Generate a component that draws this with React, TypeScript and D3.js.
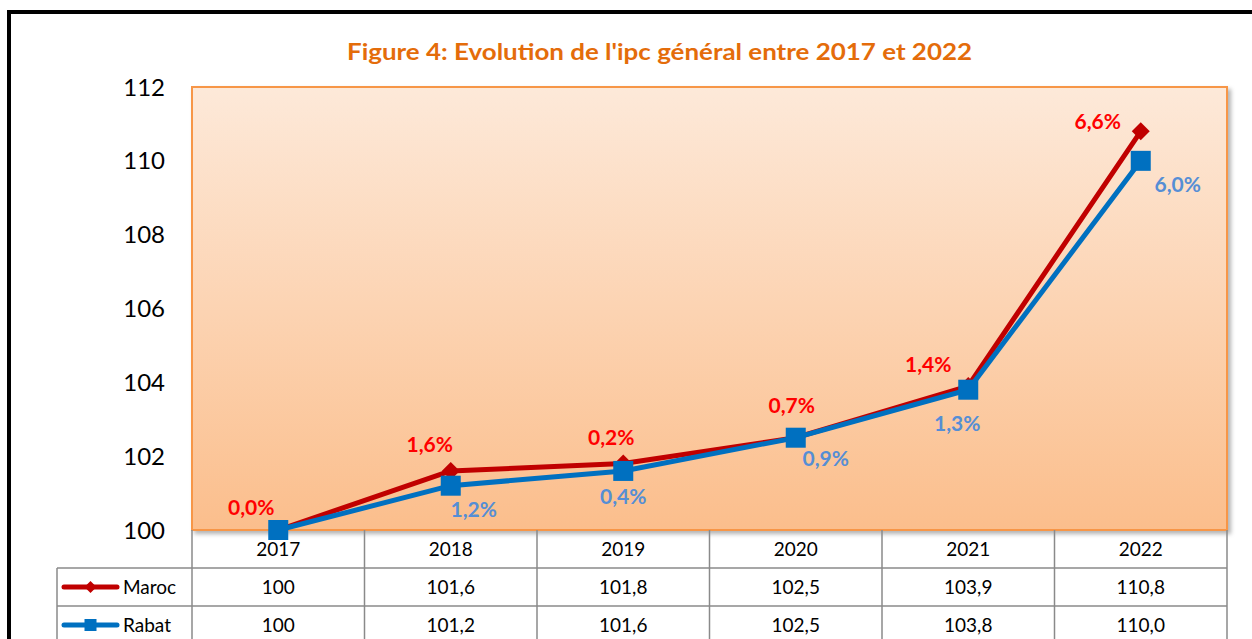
import React from "react";
import * as d3 from "d3";

const years = ["2017", "2018", "2019", "2020", "2021", "2022"];
const maroc = [100, 101.6, 101.8, 102.5, 103.9, 110.8];
const rabat = [100, 101.2, 101.6, 102.5, 103.8, 110.0];
const marocLabels = ["0,0%", "1,6%", "0,2%", "0,7%", "1,4%", "6,6%"];
const rabatLabels = ["", "1,2%", "0,4%", "0,9%", "1,3%", "6,0%"];
const marocTable = ["100", "101,6", "101,8", "102,5", "103,9", "110,8"];
const rabatTable = ["100", "101,2", "101,6", "102,5", "103,8", "110,0"];
const yTicks = [100, 102, 104, 106, 108, 110, 112];

// label offsets (layout)
const marocOff: [number, number][] = [[-27, -23], [-21, -26], [-12, -26], [-4, -32], [-40, -22], [-43, -10]];
const rabatOff: [number, number][] = [[0, 0], [23, 24], [0, 26], [30, 21], [-11, 34], [37, 24]];

const W = 1252, H = 639;
const L = 192, R = 1227, T = 87, B = 530;
const rowH = 38;
const legendLeft = 57;
const FONT = "Lato, 'Open Sans', sans-serif";
const RED = "#C00000";
const BLUE = "#0070C0";

export default function App() {
  const x = d3.scaleBand<string>().domain(years).range([L, R]);
  const y = d3.scaleLinear().domain([100, 112]).range([B, T]);
  const cx = (yr: string) => (x(yr) as number) + x.bandwidth() / 2;
  const line = d3.line<[number, number]>().x(d => d[0]).y(d => d[1]);
  const mPts: [number, number][] = years.map((yr, i) => [cx(yr), y(maroc[i])]);
  const rPts: [number, number][] = years.map((yr, i) => [cx(yr), y(rabat[i])]);
  const grid = "#8A8A8A";
  const tableBottom = B + rowH * 3;
  const bounds = years.map(yr => x(yr) as number).concat([R]);

  const diamond = (px: number, py: number, s: number) =>
    `M${px},${py - s}L${px + s},${py}L${px},${py + s}L${px - s},${py}Z`;

  return (
    <svg width={W} height={H} style={{ position: "absolute", left: 0, top: 0, background: "#fff" }} fontFamily={FONT}>
      <defs>
        <linearGradient id="bg" x1="0" y1="0" x2="0" y2="1">
          <stop offset="0" stopColor="#FDE9D9" />
          <stop offset="1" stopColor="#FBBE8C" />
        </linearGradient>
        <filter id="sh" x="-5%" y="-5%" width="110%" height="115%">
          <feDropShadow dx="3" dy="3" stdDeviation="2" floodColor="#000" floodOpacity="0.3" />
        </filter>
      </defs>
      <rect x={9} y={12} width={1300} height={700} fill="none" stroke="#000" strokeWidth={4} />
      <text x={347} y={60} textLength={625} lengthAdjust="spacingAndGlyphs" fontSize={23} fontWeight="bold" fill="#E46C0A">
        Figure 4: Evolution de l'ipc général entre 2017 et 2022
      </text>

      <rect x={L} y={T} width={R - L} height={B - T} fill="url(#bg)" stroke="#F79646" strokeWidth={2} filter="url(#sh)" />

      {yTicks.map(t => (
        <text key={t} x={165} y={y(t)} dy="0.36em" textAnchor="end" fontSize={24} fill="#000">{t}</text>
      ))}

      {/* table */}
      {[B + rowH, B + rowH * 2].map(yy => (
        <line key={yy} x1={legendLeft} x2={R} y1={yy} y2={yy} stroke={grid} strokeWidth={1.5} />
      ))}
      {bounds.map(bx => (
        <line key={bx} x1={bx} x2={bx} y1={B} y2={tableBottom} stroke={grid} strokeWidth={1.5} />
      ))}
      <line x1={legendLeft} x2={legendLeft} y1={B + rowH} y2={tableBottom} stroke={grid} strokeWidth={1.5} />
      {years.map((yr, i) => (
        <g key={yr} fontSize={19} textAnchor="middle" fill="#000">
          <text x={cx(yr)} y={B + rowH / 2} dy="0.36em">{yr}</text>
          <text x={cx(yr)} y={B + rowH * 1.5} dy="0.36em">{marocTable[i]}</text>
          <text x={cx(yr)} y={B + rowH * 2.5} dy="0.36em">{rabatTable[i]}</text>
        </g>
      ))}
      {/* legend keys */}
      <line x1={64} x2={117} y1={B + rowH * 1.5} y2={B + rowH * 1.5} stroke={RED} strokeWidth={5} strokeLinecap="round" />
      <path d={diamond(90.5, B + rowH * 1.5, 6)} fill={RED} />
      <text x={123} y={B + rowH * 1.5} dy="0.36em" fontSize={19}>Maroc</text>
      <line x1={64} x2={117} y1={B + rowH * 2.5} y2={B + rowH * 2.5} stroke={BLUE} strokeWidth={5} strokeLinecap="round" />
      <rect x={84.5} y={B + rowH * 2.5 - 6} width={12} height={12} fill={BLUE} />
      <text x={123} y={B + rowH * 2.5} dy="0.36em" fontSize={19}>Rabat</text>

      {/* lines */}
      <path d={line(mPts) as string} fill="none" stroke={RED} strokeWidth={5} strokeLinejoin="round" />
      {mPts.map((p, i) => <path key={i} d={diamond(p[0], p[1], 9)} fill={RED} />)}
      <path d={line(rPts) as string} fill="none" stroke={BLUE} strokeWidth={5} strokeLinejoin="round" />
      {rPts.map((p, i) => <rect key={i} x={p[0] - 10} y={p[1] - 10} width={20} height={20} fill={BLUE} />)}

      {mPts.map((p, i) => (
        <text key={"m" + i} x={p[0] + marocOff[i][0]} y={p[1] + marocOff[i][1]} dy="0.36em" textAnchor="middle"
          fontSize={21} fontWeight="bold" fill="#FF0000">{marocLabels[i]}</text>
      ))}
      {rPts.map((p, i) => rabatLabels[i] ? (
        <text key={"r" + i} x={p[0] + rabatOff[i][0]} y={p[1] + rabatOff[i][1]} dy="0.36em" textAnchor="middle"
          fontSize={21} fontWeight="bold" fill="#558ED5">{rabatLabels[i]}</text>
      ) : null)}
    </svg>
  );
}
